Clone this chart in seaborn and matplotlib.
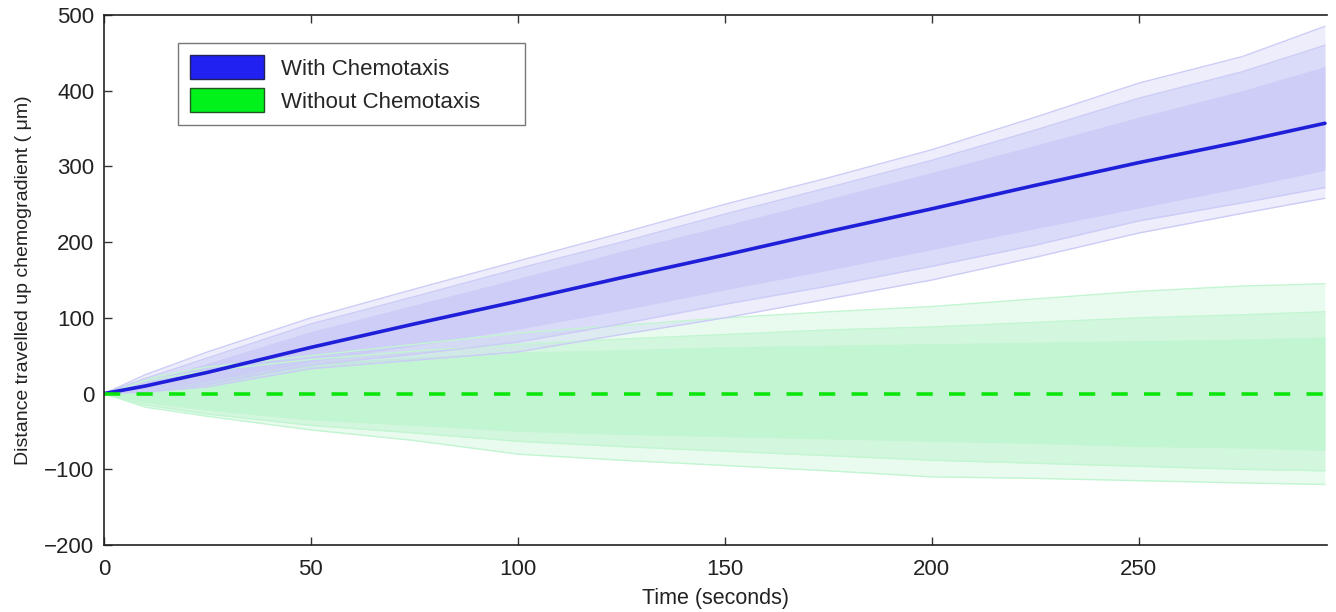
import numpy as np
import pandas as pd
import matplotlib
matplotlib.use("Agg")
import matplotlib.pyplot as plt
import seaborn as sns
from matplotlib.patches import Patch

# ---- data ----
time_s = [0, 10, 25, 50, 75, 100, 125, 150, 175, 200, 225, 250, 275, 295]

chemo_mean = [0, 10, 28, 61, 92, 122, 153, 183, 214, 244, 275, 305, 333, 357]
chemo_outer_hi = [0, 25, 55, 100, 138, 175, 212, 250, 285, 322, 365, 410, 445, 485]
chemo_mid_hi = [0, 20, 47, 92, 128, 165, 200, 237, 272, 308, 348, 390, 425, 460]
chemo_core_hi = [0, 16, 40, 82, 117, 152, 188, 222, 257, 292, 328, 365, 400, 432]
chemo_core_lo = [0, 5, 16, 42, 63, 85, 110, 137, 163, 190, 218, 245, 272, 295]
chemo_mid_lo = [0, 3, 12, 38, 52, 68, 92, 118, 142, 168, 196, 228, 252, 272]
chemo_outer_lo = [0, 2, 9, 33, 44, 55, 78, 100, 125, 150, 180, 212, 238, 258]

rand_mean = [0, 0, 0, 0, 0, 0, 0, 0, 0, 0, 0, 0, 0, 0]
rand_outer_hi = [0, 20, 35, 50, 65, 80, 90, 100, 108, 115, 125, 135, 142, 145]
rand_mid_hi = [0, 17, 30, 45, 56, 65, 72, 78, 84, 88, 94, 100, 104, 108]
rand_core_hi = [0, 14, 25, 40, 48, 55, 58, 62, 64, 66, 68, 70, 72, 75]
rand_core_lo = [0, -12, -22, -35, -42, -50, -54, -57, -60, -63, -66, -70, -72, -75]
rand_mid_lo = [0, -15, -27, -42, -52, -63, -70, -76, -82, -88, -92, -96, -100, -102]
rand_outer_lo = [0, -18, -30, -48, -62, -80, -88, -95, -102, -110, -112, -115, -118, -120]

legend_labels = ["With Chemotaxis", "Without Chemotaxis"]
x_ticks = [0, 50, 100, 150, 200, 250]
y_ticks = [-200, -100, 0, 100, 200, 300, 400, 500]

# ---- styling ----
sns.set_theme(style="white")
plt.rcParams["font.family"] = ["Liberation Sans", "DejaVu Sans"]

fig = plt.figure(figsize=(13.36, 6.12), dpi=100)
ax = fig.add_axes([104 / 1336, 1 - 545 / 612, 1223 / 1336, 530 / 612])

blue_light = (0.80, 0.80, 0.97)
green_light = (0.76, 0.96, 0.82)

df = pd.DataFrame({
    "t": time_s,
    "chemo_mean": chemo_mean,
    "rand_mean": rand_mean,
})

# green band (without chemotaxis)
ax.fill_between(time_s, rand_outer_lo, rand_outer_hi, color=green_light, alpha=0.35, lw=0)
ax.fill_between(time_s, rand_mid_lo, rand_mid_hi, color=green_light, alpha=0.55, lw=0)
ax.fill_between(time_s, rand_core_lo, rand_core_hi, color=green_light, alpha=0.95, lw=0)
for edge in (rand_outer_hi, rand_outer_lo, rand_mid_hi, rand_mid_lo):
    ax.plot(time_s, edge, color=green_light, lw=1.0)

# blue band (with chemotaxis)
ax.fill_between(time_s, chemo_outer_lo, chemo_outer_hi, color=blue_light, alpha=0.35, lw=0)
ax.fill_between(time_s, chemo_mid_lo, chemo_mid_hi, color=blue_light, alpha=0.55, lw=0)
ax.fill_between(time_s, chemo_core_lo, chemo_core_hi, color=blue_light, alpha=0.9, lw=0)
for edge in (chemo_outer_hi, chemo_outer_lo, chemo_mid_hi, chemo_mid_lo):
    ax.plot(time_s, edge, color=blue_light, lw=1.0)

# mean lines
sns.lineplot(data=df, x="t", y="chemo_mean", ax=ax, color=(0.12, 0.12, 0.85), lw=2.6)
sns.lineplot(data=df, x="t", y="rand_mean", ax=ax, color=(0.05, 0.9, 0.05), lw=2.6,
             linestyle=(0, (4.5, 4.5)))

ax.set_xlim(0, 295.5)
ax.set_ylim(-200, 500)
ax.set_xticks(x_ticks)
ax.set_yticks(y_ticks)
ax.set_xticklabels([str(v) for v in x_ticks])
ax.set_yticklabels([str(v).replace("-", "\u2212") for v in y_ticks])
ax.tick_params(direction="in", length=6, width=1, colors="#333333", labelcolor="#222222",
               labelsize=16, top=True, right=False, bottom=True, left=True, pad=7)
ax.tick_params(axis="x", pad=10)
for side in ["left", "bottom", "top"]:
    ax.spines[side].set_color("#222222")
    ax.spines[side].set_linewidth(1.2)
ax.spines["right"].set_visible(False)

ax.set_xlabel("Time (seconds)", fontsize=15.5, color="#222222", labelpad=6)
ax.set_ylabel("Distance travelled up chemogradient ( \u03bcm)", fontsize=14, color="#222222", labelpad=9)

handles = [Patch(facecolor=(0.13, 0.13, 0.95), edgecolor="#222255"),
           Patch(facecolor=(0.0, 0.95, 0.1), edgecolor="#225522")]
leg = ax.legend(handles, legend_labels, loc="upper left",
                bbox_to_anchor=(0.0605, 0.5, 0.2837, 0.447), mode="expand",
                fontsize=16, frameon=True, fancybox=False, edgecolor="#555555",
                handlelength=3.3, handleheight=1.25, borderpad=0.55, labelspacing=0.4,
                handletextpad=0.8, borderaxespad=0)
leg.get_frame().set_linewidth(1.0)

fig.savefig("out.png", dpi=100)
